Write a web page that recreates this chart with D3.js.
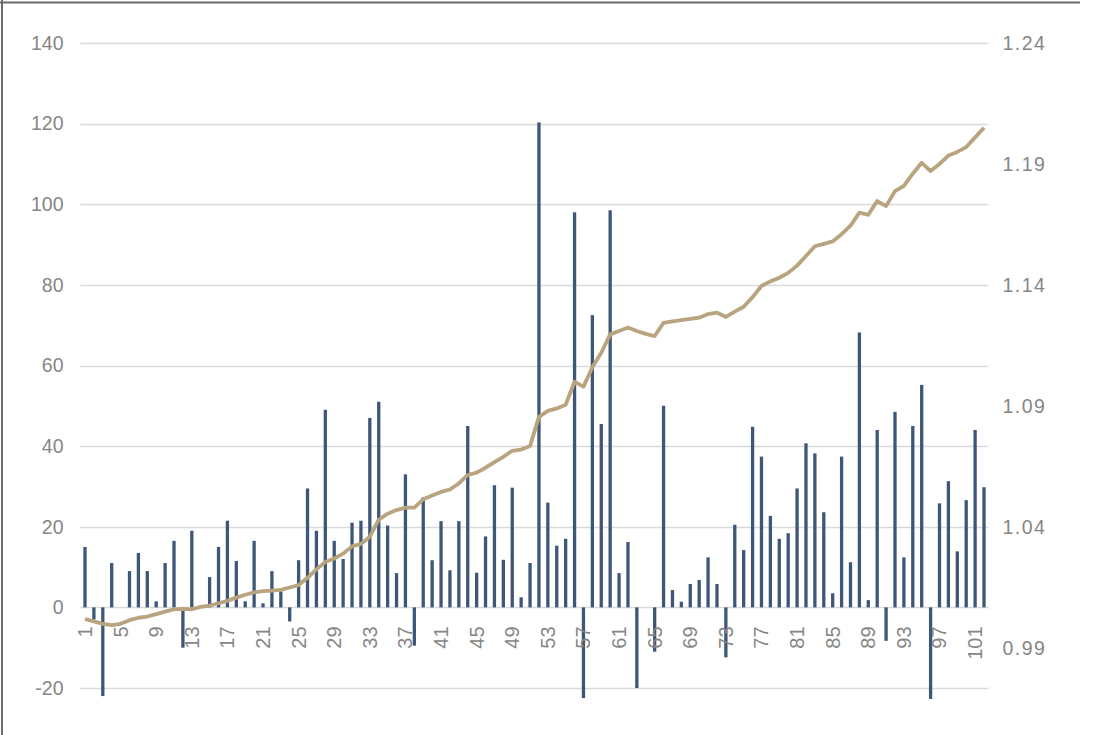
<!DOCTYPE html>
<html>
<head>
<meta charset="utf-8">
<script src="https://cdn.jsdelivr.net/npm/d3@7"></script>
<style>
  body { margin: 0; background: #fff; }
  text { font-family: "Liberation Sans", Arial, sans-serif; }
</style>
</head>
<body>
<svg width="1107" height="735"></svg>
<script>
// categories 1..102
var categories = [];
for (var i = 1; i <= 102; i++) categories.push(i);

var barValues = [
  15, -3, -22, 11, 0, 9, 13.5, 9, 1.5, 11,
  16.5, -10, 19, 0, 7.5, 15, 21.5, 11.5, 1.5, 16.5,
  1, 9, 4, -3.5, 11.7, 29.5, 19, 49, 16.5, 12,
  21, 21.5, 47, 51, 20.3, 8.5, 33, -9.5, 27.3, 11.7,
  21.4, 9.2, 21.4, 45, 8.6, 17.6, 30.3, 11.8, 29.7, 2.5,
  11, 120.3, 26, 15.3, 17, 98, -22.5, 72.5, 45.5, 98.5,
  8.5, 16.2, -20, 0, -11, 50, 4.3, 1.4, 5.8, 6.8,
  12.4, 5.8, -12.4, 20.5, 14.2, 44.8, 37.4, 22.7, 17, 18.4,
  29.5, 40.7, 38.2, 23.6, 3.5, 37.4, 11.2, 68.2, 1.8, 44,
  -8.3, 48.5, 12.4, 45, 55.2, -22.7, 25.8, 31.3, 13.9, 26.6,
  44, 29.8
];

var lineValues = [
  1.002, 1.001, 1.000, 0.9995, 1.000, 1.0015, 1.0025, 1.003, 1.004, 1.005,
  1.006, 1.0062, 1.006, 1.007, 1.0075, 1.0085, 1.0095, 1.0108, 1.012, 1.013,
  1.0135, 1.0137, 1.014, 1.015, 1.016, 1.019, 1.0225, 1.0255, 1.027, 1.029,
  1.032, 1.033, 1.036, 1.043, 1.0455, 1.047, 1.048, 1.048, 1.0515, 1.053,
  1.0545, 1.0555, 1.058, 1.0615, 1.0625, 1.0645, 1.0668, 1.069, 1.0715, 1.072,
  1.0735, 1.0855, 1.088, 1.089, 1.0905, 1.100, 1.098, 1.106, 1.112, 1.1196,
  1.121, 1.1224, 1.121, 1.1198, 1.1189, 1.1244, 1.125, 1.1255, 1.126, 1.1265,
  1.128, 1.1286, 1.1268, 1.129, 1.131, 1.135, 1.1396, 1.1415, 1.143, 1.145,
  1.148, 1.152, 1.156, 1.157, 1.158, 1.161, 1.1645, 1.1699, 1.169, 1.1747,
  1.1726, 1.1788, 1.181, 1.186, 1.1905, 1.1871, 1.190, 1.1935, 1.195, 1.197,
  1.201, 1.205
];

var leftTicks = [-20, 0, 20, 40, 60, 80, 100, 120, 140];
var rightTicks = ["0.99", "1.04", "1.09", "1.14", "1.19", "1.24"];
var xTickLabels = categories.filter(function(d) { return (d - 1) % 4 === 0; });

var svg = d3.select("svg"),
    width = +svg.attr("width"),
    height = +svg.attr("height");

var plotLeft = 80.5, plotRight = 988.5, plotTop = 43, plotBottom = 688;

var x = d3.scaleBand()
    .domain(categories)
    .range([plotLeft, plotRight])
    .paddingInner(0.63)
    .paddingOuter(0.32);

var y = d3.scaleLinear()
    .domain([-20, 140])
    .range([plotBottom, plotTop]);

// right axis: 1.24 sits on the top gridline, 0.05 per 121px
var rMax = 1.24, rMin = 1.24 - 0.05 * (plotBottom - plotTop) / 121;
var yR = d3.scaleLinear()
    .domain([rMin, rMax])
    .range([plotBottom, plotTop]);

var labelColor = "#868686";

// frame of the screenshot
svg.append("line")
    .attr("x1", 0).attr("x2", 1080).attr("y1", 2.5).attr("y2", 2.5)
    .attr("stroke", "#6b6b6b").attr("stroke-width", 2);
svg.append("line")
    .attr("x1", 2).attr("x2", 2).attr("y1", 0).attr("y2", height)
    .attr("stroke", "#6b6b6b").attr("stroke-width", 2);

// gridlines
svg.append("g")
    .attr("class", "grid")
  .selectAll("line")
  .data(leftTicks)
  .enter().append("line")
    .attr("x1", plotLeft)
    .attr("x2", plotRight)
    .attr("y1", function(d) { return Math.round(y(d)) + 0.5; })
    .attr("y2", function(d) { return Math.round(y(d)) + 0.5; })
    .attr("stroke", "#d9d9d9")
    .attr("stroke-width", 1.5);

// left axis
var leftAxis = svg.append("g")
    .attr("transform", "translate(" + (plotLeft - 17) + ",0)")
    .call(d3.axisLeft(y).tickValues(leftTicks).tickFormat(function(d) { return String(d); }).tickSize(0).tickPadding(0));
leftAxis.select(".domain").remove();
leftAxis.selectAll("text")
    .style("font-size", "19.5px")
    .style("fill", labelColor)
    .style("font-family", "Liberation Sans, Arial, sans-serif");

// right axis
var rightAxis = svg.append("g")
    .attr("transform", "translate(" + (plotRight + 14) + ",0)")
    .call(d3.axisRight(yR).tickValues(rightTicks.map(Number)).tickFormat(d3.format(".2f")).tickSize(0).tickPadding(0));
rightAxis.select(".domain").remove();
rightAxis.selectAll("text")
    .style("font-size", "19.5px")
    .style("letter-spacing", "1.5px")
    .style("fill", labelColor)
    .style("font-family", "Liberation Sans, Arial, sans-serif");

// bars
svg.append("g")
    .attr("class", "bars")
  .selectAll("rect")
  .data(barValues)
  .enter().append("rect")
    .attr("x", function(d, i) { return x(categories[i]); })
    .attr("width", x.bandwidth())
    .attr("y", function(d) { return y(Math.max(0, d)); })
    .attr("height", function(d) { return Math.abs(y(d) - y(0)); })
    .attr("fill", "#3e5677");

// x labels, rotated
svg.append("g")
    .attr("class", "xlabels")
  .selectAll("text")
  .data(xTickLabels)
  .enter().append("text")
    .attr("transform", function(d) {
      return "translate(" + (x(d) + x.bandwidth() / 2) + "," + (y(0) + 19) + ") rotate(-90)";
    })
    .attr("dy", "0.35em")
    .style("text-anchor", "end")
    .style("font-size", "20px")
    .style("fill", labelColor)
    .text(function(d) { return d; });

// line on the right axis
var line = d3.line()
    .x(function(d, i) { return x(categories[i]) + x.bandwidth() / 2; })
    .y(function(d) { return yR(d); });

svg.append("path")
    .datum(lineValues)
    .attr("d", line)
    .attr("fill", "none")
    .attr("stroke", "#b8a47f")
    .attr("stroke-width", 3.8)
    .attr("stroke-linejoin", "round");
</script>
</body>
</html>
